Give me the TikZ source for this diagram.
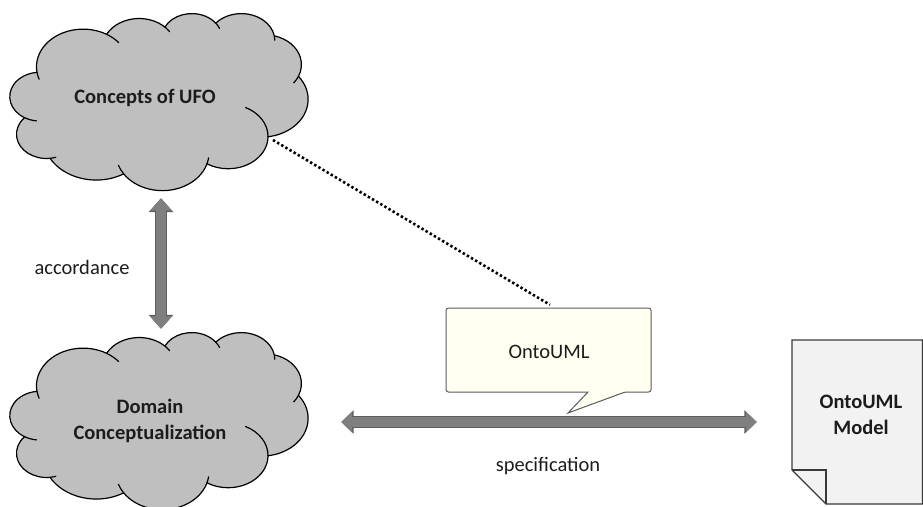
\documentclass[tikz,border=0pt]{standalone}
\usepackage{fontspec}
\setmainfont{Carlito}
\usetikzlibrary{arrows.meta,calc}
\definecolor{cloudfill}{HTML}{BFBFBF}
\definecolor{arrowfill}{HTML}{7F7F7F}
\definecolor{arrowline}{HTML}{5E5E5E}
\definecolor{balloonfill}{HTML}{FFFFF2}
\definecolor{balloonline}{HTML}{5A5A5A}
\definecolor{docfill}{HTML}{F2F2F2}
\definecolor{docline}{HTML}{3A3A3A}
\definecolor{textcol}{HTML}{1C1C1C}
\def\cw{0.68981}
\def\ch{0.40972}
% one puff of the cloud: visual start angle, sweep, radii (in 1/100 of the 43200 shape units), name of end point
\newcommand\varc[5]{%
 \pgfextra{%
   \pgfmathparse{atan2((#3)*sin(#1),(#4)*cos(#1))}\xdef\tS{\pgfmathresult}%
   \pgfmathparse{atan2((#3)*sin((#1)+(#2)),(#4)*cos((#1)+(#2)))}\xdef\tE{\pgfmathresult}%
   \pgfmathparse{\tE-\tS}\xdef\tD{\pgfmathresult}%
   \pgfmathparse{ifthenelse(\tD>0,\tD-360,\tD)}\xdef\tD{\pgfmathresult}%
   \pgfmathparse{\tS+\tD}\xdef\tE{\pgfmathresult}%
   \expandafter\xdef\csname ts#5\endcsname{\tS}%
   \expandafter\xdef\csname te#5\endcsname{\tE}}
 arc[start angle=\tS, delta angle=\tD, x radius=#3*\cw pt, y radius=#4*\ch pt] coordinate (#5)}
\newcommand\cloudpath[1]{%
 (39.00*\cw pt,-143.70*\ch pt) coordinate (#1c0)
 \varc{190.4875}{-123.7805}{67.53}{91.90}{#1c1}
 \varc{144.1024}{-89.9452}{53.33}{72.67}{#1c2}
 \varc{145.8079}{-99.7230}{43.65}{59.45}{#1c3}
 \varc{130.9861}{-117.2417}{48.57}{65.95}{#1c4}
 \varc{78.7089}{-109.0269}{53.33}{72.73}{#1c5}
 \varc{46.2673}{-130.2690}{67.75}{92.20}{#1c6}
 \varc{-0.6250}{-114.0333}{57.85}{78.67}{#1c7}
 \varc{-22.4516}{-115.1726}{67.52}{92.15}{#1c8}
 \varc{-66.2426}{-75.7110}{77.20}{105.43}{#1c9}
 \varc{274.9421}{-146.7356}{43.60}{59.18}{#1c10}
 \varc{246.8285}{-152.5189}{43.45}{59.45}{#1c11}
 -- cycle}
% inner stroke: from point, start angle, sweep, radii
\newcommand\inner[5]{\draw[cloudinner] (#1) arc[start angle=#2, delta angle=#3, x radius=#4*\cw pt, y radius=#5*\ch pt];}
\newcommand\cloudinners[1]{%
 \inner{#1c0}{\csname ts#1c1\endcsname}{12}{67.53}{91.90}
 \inner{#1c1}{\csname te#1c1\endcsname}{-20}{67.53}{91.90}
 \inner{#1c2}{\csname te#1c2\endcsname}{-12}{53.33}{72.67}
 \inner{#1c3}{\csname te#1c3\endcsname}{-15}{43.65}{59.45}
 \inner{#1c4}{\csname te#1c4\endcsname}{-10}{48.57}{65.95}
 \inner{#1c5}{\csname te#1c5\endcsname}{-15}{53.33}{72.73}
 \inner{#1c6}{\csname ts#1c7\endcsname}{65}{57.85}{78.67}
 \inner{#1c7}{\csname ts#1c8\endcsname}{10}{67.52}{92.15}
 \inner{#1c8}{\csname te#1c8\endcsname}{-15}{67.52}{92.15}
 \inner{#1c9}{\csname ts#1c10\endcsname}{12}{43.60}{59.18}
 \inner{#1c10}{\csname ts#1c11\endcsname}{25}{43.45}{59.45}}
\tikzset{
  cloudline/.style={draw=black, line width=1.2pt, fill=cloudfill},
  cloudinner/.style={draw=black, line width=1.2pt},
  cloudbody/.style={minimum width=298pt, minimum height=177pt, inner sep=0pt},
  lbl/.style={font=\fontsize{20.5}{26}\selectfont, text=textcol, inner sep=0pt},
  boldlbl/.style={font=\fontsize{20.5}{26}\selectfont\bfseries, text=textcol, align=center, inner sep=0pt},
  fatv/.style={line width=10pt, draw=arrowfill, {Triangle[width=21pt,length=12.5pt]}-{Triangle[width=21pt,length=12.5pt]},
     preaction={draw=arrowline, line width=12pt, {Triangle[width=24pt,length=14pt]}-{Triangle[width=24pt,length=14pt]}}},
  fath/.style={line width=10.5pt, draw=arrowfill, {Triangle[width=20.5pt,length=11pt]}-{Triangle[width=20.5pt,length=11pt]},
     preaction={draw=arrowline, line width=12.5pt, {Triangle[width=23pt,length=12.5pt]}-{Triangle[width=23pt,length=12.5pt]}}},
  dotline/.style={draw=black, line width=2.6pt, dash pattern=on 2.4pt off 2.4pt},
  balloon/.style={minimum width=205pt, minimum height=84pt, inner sep=0pt},
  docbody/.style={minimum width=130pt, minimum height=164pt, inner sep=0pt},
}
\begin{document}
\begin{tikzpicture}[x=1pt,y=1pt]
\useasboundingbox (0,0) rectangle (923,-506);
\clip (0,0) rectangle (923,-506);
% clouds
\begin{scope}[shift={(10,-13)}]
  \draw[cloudline] \cloudpath{u};
  \cloudinners{u}
\end{scope}
\begin{scope}[shift={(10,-332)}]
  \draw[cloudline] \cloudpath{d};
  \cloudinners{d}
\end{scope}
\node[cloudbody] (ufo) at (159,-101.5) {};
\node[cloudbody] (dom) at (159,-420.5) {};
\node[boldlbl] (ufotext) at (145,-98) {Concepts of UFO};
\node[boldlbl] (domtext) at (150,-421) {Domain\\Conceptualization};
% document
\node[docbody] (model) at (857,-422) {};
\draw[fill=docfill, draw=docline, line width=1.2pt]
  (792,-340) -- (922.4,-340) -- (922.4,-504) -- (826,-504) -- (792,-470) -- cycle;
\draw[draw=docline, line width=1.2pt] (792,-470) -- (826,-470) -- (826,-504);
\node[boldlbl] (modeltext) at (861,-415) {OntoUML\\Model};
% balloon
\node[balloon] (ontouml) at (548.5,-350) {};
\draw[fill=balloonfill, draw=balloonline, line width=1pt, rounded corners=2.5pt]
  (446,-350) -- (446,-308) -- (651,-308) -- (651,-392) -- (625,-392) [sharp corners] -- (568,-413) -- (588,-392) [rounded corners=2.5pt] -- (446,-392) -- cycle;
\node[lbl] (ontotext) at (549,-352) {OntoUML};
% connectors
\draw[fatv] ([xshift=2pt,yshift=-8pt]ufo.south) -- ([xshift=2pt,yshift=3pt]dom.north);
\draw[fath] ([xshift=33pt,yshift=-1.5pt]dom.east) -- ([xshift=-35pt]model.west);
\coordinate (dotstart) at (273,-140);
\draw[dotline] (dotstart) -- ([xshift=1.5pt,yshift=3pt]ontouml.north);
% labels
\node[lbl] (acc) at (82,-267) {accordance};
\node[lbl] (spec) at (548,-466) {specification};
\end{tikzpicture}
\end{document}
